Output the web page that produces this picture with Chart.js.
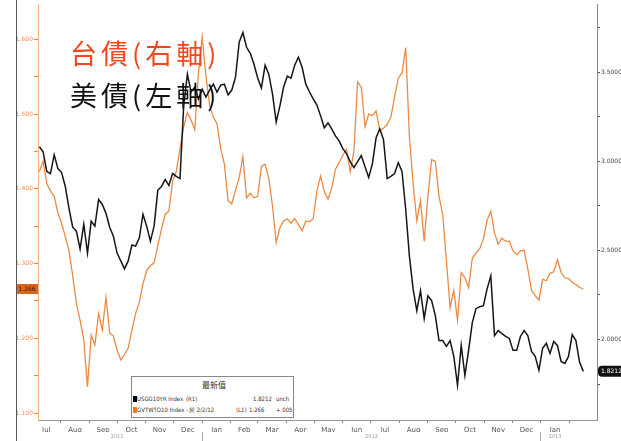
<!DOCTYPE html>
<html>
<head>
<meta charset="utf-8">
<script src="https://cdn.jsdelivr.net/npm/chart.js@4/dist/chart.umd.min.js"></script>
<style>
  html, body { margin: 0; padding: 0; background: #fff; }
  #wrap { position: relative; width: 621px; height: 441px; overflow: hidden; }
  #chart { position: absolute; left: 0; top: 0; }
  #frame { position: absolute; left: 16px; top: 0; width: 1px; height: 441px; background: #555; }
  .note { position: absolute; left: 70px; font-family: "Noto Sans CJK TC", sans-serif; font-size: 27px; letter-spacing: 4px; line-height: 30px; white-space: nowrap; }
  #tw { top: 38px; color: #f4481c; }
  #us { top: 80px; color: #111; }
  #legend { position: absolute; left: 131px; top: 376px; width: 161px; height: 40px; border: 1px solid #888; background: #fff; font-family: "Liberation Sans Narrow", "DejaVu Sans Condensed", sans-serif; font-size: 6px; color: #333; }
  #legend span { position: absolute; white-space: nowrap; line-height: 8px; }
  #legend .sw { width: 4px; height: 6px; }
</style>
</head>
<body>
<div id="wrap">
  <canvas id="chart" width="621" height="441"></canvas>
  <div id="frame"></div>
  <div class="note" id="tw">台債(右軸)</div>
  <div class="note" id="us">美債(左軸)</div>
  <div id="legend">
    <span style="left:70px; top:3px; font-family:'Noto Sans CJK TC'; font-size:8px; line-height:10px;">最新值</span>
    <span class="sw" style="left:1px; top:19px; background:#000;"></span>
    <span style="left:5px; top:18px;">USGG10YR Index</span>
    <span style="left:54px; top:18px;">(R1)</span>
    <span style="left:121px; top:18px;">1.8212</span>
    <span style="left:144px; top:18px;">unch</span>
    <span class="sw" style="left:1px; top:30px; background:#f07a1e;"></span>
    <span style="left:5px; top:29px;">GVTWTO10 Index -</span>
    <span style="left:57px; top:29px;">於 2/2/12</span>
    <span style="left:104px; top:29px;">(L1)</span>
    <span style="left:117px; top:29px;">1.266</span>
    <span style="left:144px; top:29px;">+.005</span>
  </div>
</div>
<script>
// 取樣：2011-07-09 起每 4 天一點
const startDate = Date.UTC(2011, 6, 9);
const stepDays = 4;

// 月份、年份標籤
const monthLabels = ["Jul", "Aug", "Sep", "Oct", "Nov", "Dec", "Jan", "Feb", "Mar", "Apr",
  "May", "Jun", "Jul", "Aug", "Sep", "Oct", "Nov", "Dec", "Jan"];
const yearLabels = ["2011", "2012", "2013"];

// 美國 10 年期公債殖利率 (右軸)
const usBond = [
  3.082, 3.054, 2.943, 2.931, 3.037, 2.959, 2.937, 2.859, 2.736, 2.630,
  2.608, 2.508, 2.647, 2.485, 2.664, 2.636, 2.786, 2.758, 2.708, 2.630,
  2.580, 2.485, 2.441, 2.396, 2.441, 2.530, 2.524, 2.569, 2.703, 2.636,
  2.552, 2.636, 2.837, 2.859, 2.898, 2.864, 2.931, 2.915, 2.903, 3.311,
  3.489, 3.389, 3.417, 3.350, 3.405, 3.361, 3.400, 3.433, 3.389, 3.428,
  3.433, 3.372, 3.400, 3.472, 3.668, 3.723, 3.640, 3.606, 3.545, 3.467,
  3.411, 3.539, 3.489, 3.378, 3.221, 3.311, 3.417, 3.478, 3.467, 3.539,
  3.584, 3.528, 3.433, 3.389, 3.350, 3.316, 3.255, 3.188, 3.216, 3.182,
  3.143, 3.115, 3.071, 3.043, 2.998, 2.965, 2.998, 3.032, 2.970, 2.909,
  2.987, 3.132, 3.182, 3.121, 2.903, 2.915, 2.931, 2.993, 2.943, 2.731,
  2.468, 2.284, 2.162, 2.273, 2.117, 2.245, 2.218, 2.134, 1.994, 1.994,
  1.961, 1.994, 1.905, 1.743, 1.967, 1.799, 1.939, 2.095, 2.173, 2.184,
  2.190, 2.284, 2.357, 2.022, 2.050, 2.033, 2.017, 2.006, 1.939, 1.939,
  2.017, 2.050, 2.022, 1.933, 1.905, 1.827, 1.950, 1.978, 1.922, 1.989,
  1.967, 1.877, 1.866, 1.905, 2.028, 1.994, 1.872, 1.8212
];

// 台灣 10 年期公債殖利率 (左軸)
const twBond = [
  1.423, 1.437, 1.407, 1.397, 1.390, 1.368, 1.354, 1.336, 1.317, 1.284,
  1.247, 1.224, 1.198, 1.135, 1.204, 1.191, 1.233, 1.211, 1.255, 1.207,
  1.203, 1.184, 1.171, 1.178, 1.187, 1.211, 1.233, 1.248, 1.273, 1.291,
  1.297, 1.301, 1.324, 1.346, 1.366, 1.370, 1.410, 1.423, 1.454, 1.483,
  1.502, 1.492, 1.479, 1.556, 1.603, 1.552, 1.512, 1.496, 1.487, 1.454,
  1.433, 1.384, 1.380, 1.398, 1.415, 1.443, 1.388, 1.394, 1.388, 1.390,
  1.430, 1.433, 1.414, 1.377, 1.328, 1.348, 1.357, 1.360, 1.354, 1.360,
  1.352, 1.344, 1.357, 1.356, 1.360, 1.397, 1.417, 1.396, 1.386, 1.401,
  1.426, 1.435, 1.445, 1.453, 1.423, 1.450, 1.543, 1.536, 1.483, 1.500,
  1.498, 1.504, 1.478, 1.481, 1.486, 1.496, 1.523, 1.548, 1.555, 1.589,
  1.470, 1.407, 1.357, 1.384, 1.330, 1.390, 1.439, 1.437, 1.390, 1.366,
  1.304, 1.241, 1.264, 1.224, 1.288, 1.281, 1.268, 1.307, 1.314, 1.320,
  1.333, 1.358, 1.370, 1.341, 1.326, 1.334, 1.330, 1.330, 1.317, 1.312,
  1.317, 1.318, 1.293, 1.264, 1.257, 1.251, 1.279, 1.277, 1.287, 1.289,
  1.305, 1.288, 1.281, 1.280, 1.275, 1.272, 1.268, 1.266
];

const DAY = 86400000;
const origin = Date.UTC(2011, 6, 1);
function dayOf(y, m, d) {
  return (Date.UTC(y, m, d) - origin) / DAY;
}
const firstDay = (startDate - origin) / DAY;
const xMin = 6.5;
const xMax = 610.8;

function toPoints(values) {
  return values.map((v, i) => ({ x: firstDay + i * stepDays, y: v }));
}

// 月份分界與中點
const bounds = [];
for (let k = 0; k <= monthLabels.length; k++) bounds.push(dayOf(2011, 6 + k, 1));
const monthTicks = [];
monthLabels.forEach((name, k) => {
  if (bounds[k] >= xMin) monthTicks.push({ value: bounds[k], lab: "" });
  monthTicks.push({ value: (bounds[k] + bounds[k + 1]) / 2, lab: name });
});
monthTicks.push({ value: bounds[monthLabels.length], lab: "" });
monthTicks.sort((a, b) => a.value - b.value);

// 年份：標在可見月份的中間
const yearTicks = [
  { value: dayOf(2012, 0, 1), lab: "" },
  { value: dayOf(2013, 0, 1), lab: "" }
];
[[0, 5], [6, 17], [18, 18]].forEach((r, i) => {
  const a = (bounds[r[0]] + bounds[r[0] + 1]) / 2;
  const b = (bounds[r[1]] + bounds[r[1] + 1]) / 2;
  yearTicks.push({ value: (a + b) / 2, lab: yearLabels[i] });
});
yearTicks.sort((a, b) => a.value - b.value);

const leftTicks = [];
for (let k = 22; k <= 32; k++) leftTicks.push({ value: k * 0.05, lab: k % 2 === 0 ? (k * 0.05).toFixed(3) : "" });
const rightTicks = [];
for (let k = 7; k <= 15; k++) rightTicks.push({ value: k * 0.25, lab: k % 2 === 0 ? (k * 0.25).toFixed(4) : "" });

function setTicks(list) {
  return (scale) => { scale.ticks = list.map(t => ({ value: t.value, lab: t.lab })); };
}
const labelOf = (v, i, ticks) => ticks[i].lab;

// 最新值標籤
const lastValueTags = {
  id: "lastValueTags",
  afterDraw(chart) {
    const ctx = chart.ctx;
    const tw = twBond[twBond.length - 1];
    const us = usBond[usBond.length - 1];
    const yl = chart.scales.yL.getPixelForValue(tw);
    const yr = chart.scales.yR.getPixelForValue(us);
    ctx.save();
    ctx.font = "6px 'DejaVu Sans'";
    ctx.textBaseline = "middle";
    ctx.fillStyle = "#dc6418";
    ctx.fillRect(16, yl - 5, 22, 10);
    ctx.fillStyle = "#3b1600";
    ctx.textAlign = "center";
    ctx.fillText(tw.toFixed(3), 27, yl);
    ctx.fillStyle = "#111";
    ctx.beginPath();
    ctx.roundRect(598, yr - 5.5, 30, 11, 4);
    ctx.fill();
    ctx.fillStyle = "#fff";
    ctx.textAlign = "left";
    ctx.fillText(us.toFixed(4), 601, yr);
    ctx.restore();
  }
};

new Chart(document.getElementById("chart"), {
  type: "line",
  data: {
    datasets: [
      {
        label: "USGG10YR Index",
        data: toPoints(usBond),
        yAxisID: "yR",
        borderColor: "#151515",
        borderWidth: 1.5,
        pointRadius: 0,
        tension: 0
      },
      {
        label: "GVTWTO10 Index",
        data: toPoints(twBond),
        yAxisID: "yL",
        borderColor: "#ec8a44",
        borderWidth: 1.3,
        pointRadius: 0,
        tension: 0
      }
    ]
  },
  options: {
    responsive: false,
    animation: false,
    devicePixelRatio: 1,
    layout: { padding: { top: 2, left: 0, right: 0, bottom: 0 } },
    plugins: { legend: { display: false }, tooltip: { enabled: false } },
    scales: {
      x: {
        type: "linear",
        position: "bottom",
        weight: 0,
        min: xMin,
        max: xMax,
        afterBuildTicks: setTicks(monthTicks),
        afterFit: (s) => { s.height = 12; },
        border: { color: "#999", width: 1 },
        grid: {
          drawOnChartArea: false,
          tickLength: 3,
          tickColor: (c) => (c.tick && c.tick.lab === "" ? "#888" : "rgba(0,0,0,0)")
        },
        ticks: { autoSkip: false, maxRotation: 0, padding: 3, color: "#555", font: { family: "DejaVu Sans", size: 7 }, callback: labelOf }
      },
      x2: {
        type: "linear",
        position: "bottom",
        weight: 1,
        min: xMin,
        max: xMax,
        afterBuildTicks: setTicks(yearTicks),
        afterFit: (s) => { s.height = 9; },
        border: { display: false },
        grid: {
          drawOnChartArea: false,
          tickLength: 9,
          tickColor: (c) => (c.tick && c.tick.lab === "" ? "#aaa" : "rgba(0,0,0,0)")
        },
        ticks: { autoSkip: false, maxRotation: 0, padding: -7, color: "#999", font: { family: "DejaVu Sans", size: 5 }, callback: labelOf }
      },
      yL: {
        type: "linear",
        position: "left",
        min: 1.0907,
        max: 1.6465,
        afterBuildTicks: setTicks(leftTicks),
        afterFit: (s) => { s.width = 38; },
        border: { color: "#f3b084", width: 1 },
        grid: { drawOnChartArea: false, tickLength: 4, tickColor: "#e8884a" },
        ticks: { autoSkip: false, padding: 1, color: "#e8905a", font: { family: "DejaVu Sans", size: 6 }, callback: labelOf }
      },
      yR: {
        type: "linear",
        position: "right",
        min: 1.5482,
        max: 3.8795,
        afterBuildTicks: setTicks(rightTicks),
        afterFit: (s) => { s.width = 24; },
        border: { color: "#888", width: 1 },
        grid: { drawOnChartArea: false, tickLength: 3, tickColor: "#555" },
        ticks: { autoSkip: false, padding: 1, color: "#444", font: { family: "DejaVu Sans", size: 6 }, callback: labelOf }
      }
    }
  },
  plugins: [lastValueTags]
});
</script>
</body>
</html>
